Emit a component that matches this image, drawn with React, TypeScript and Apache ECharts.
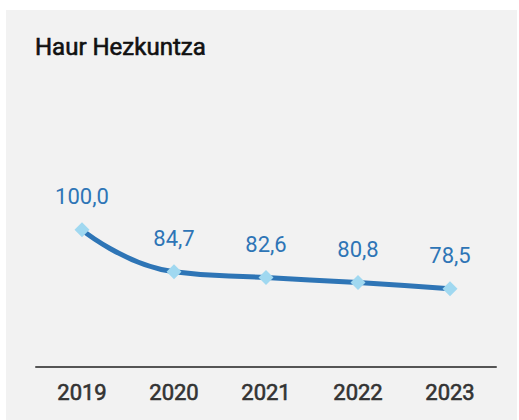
import React, { useEffect, useRef } from "react";
import * as echarts from "echarts";

const title = "Haur Hezkuntza";
const years = ["2019", "2020", "2021", "2022", "2023"];
const values = [100.0, 84.7, 82.6, 80.8, 78.5];

export default function App() {
  const ref = useRef<HTMLDivElement>(null);
  useEffect(() => {
    if (!ref.current) return;
    const chart = echarts.init(ref.current, null, { renderer: "svg" });
    chart.setOption({
      animation: false,
      backgroundColor: "#f2f2f2",
      textStyle: { fontFamily: "Roboto" },
      graphic: [
        {
          type: "text",
          x: 29,
          y: 37,
          style: {
            text: title,
            fontFamily: "Roboto",
            fontSize: 24,
            fontWeight: "normal",
            fill: "#111111",
            stroke: "#111111",
            lineWidth: 0.6,
            verticalAlign: "middle",
          },
        },
      ],
      grid: { left: 30, right: 21, top: 165, bottom: 53 },
      xAxis: {
        type: "category",
        data: years,
        boundaryGap: true,
        axisLine: { lineStyle: { color: "#555555", width: 2 } },
        axisTick: { show: false },
        axisLabel: {
          color: "#333333",
          fontSize: 22,
          fontWeight: "normal",
          fontFamily: "Roboto",
          textBorderColor: "#333333",
          textBorderWidth: 0.6,
          margin: 14,
        },
      },
      yAxis: {
        type: "value",
        min: 50,
        max: 120,
        show: false,
        splitLine: { show: false },
      },
      series: [
        {
          type: "line",
          data: values,
          smooth: 0.5,
          symbol: "diamond",
          symbolSize: 15,
          lineStyle: { color: "#2E75B6", width: 5 },
          itemStyle: { color: "#A0D8F0" },
          label: {
            show: true,
            position: "top",
            distance: 15,
            color: "#2E75B6",
            fontSize: 22,
            fontFamily: "Roboto",
            formatter: (p: any) => p.value.toFixed(1).replace(".", ","),
          },
        },
      ],
    });
    return () => chart.dispose();
  }, []);
  return (
    <div style={{ position: "absolute", left: 0, top: 0, width: 519, height: 420, background: "#ffffff" }}>
      <div ref={ref} style={{ position: "absolute", left: 6, top: 10, width: 511, height: 410 }} />
    </div>
  );
}
